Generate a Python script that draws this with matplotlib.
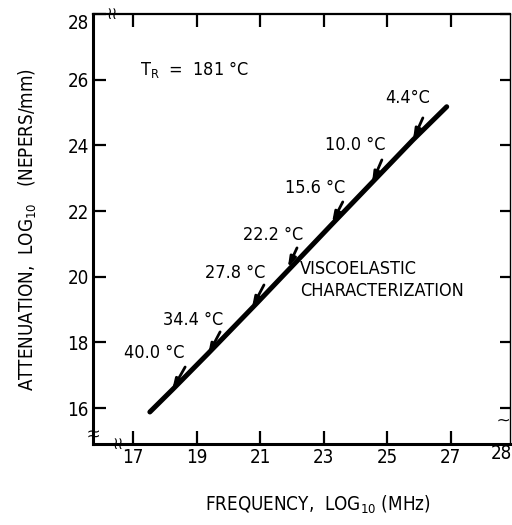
import numpy as np
import matplotlib
matplotlib.use('Agg')
import matplotlib.pyplot as plt

plt.rcParams['font.family'] = ['DejaVu Sans']
plt.rcParams['font.stretch'] = 'condensed'
plt.rcParams['mathtext.fontset'] = 'custom'
plt.rcParams['mathtext.rm'] = 'DejaVu Sans:stretch=condensed'

# master curve (log10 MHz vs log10 nepers/mm)
freq = [17.53, 18.26, 19.36, 20.90, 22.16, 23.26, 24.55, 25.81, 26.87]
atten = [15.88, 16.58, 17.66, 19.20, 20.48, 21.60, 22.90, 24.17, 25.18]

# shift markers for each test temperature
temps = ['40.0 °C', '34.4 °C', '27.8 °C', '22.2 °C', '15.6 °C', '10.0 °C', '4.4°C']
lab_x = [17.68, 18.90, 20.21, 21.42, 22.74, 24.00, 25.63]
lab_y = [17.68, 18.68, 20.12, 21.27, 22.71, 24.02, 25.45]
tail_x = [18.64, 19.74, 21.12, 22.16, 23.60, 24.83, 26.12]
tail_y = [17.25, 18.32, 19.75, 20.88, 22.28, 23.56, 24.84]
head_x = [18.23, 19.36, 20.74, 21.87, 23.26, 24.52, 25.81]
head_y = [16.55, 17.62, 19.05, 20.27, 21.64, 22.86, 24.17]

xticks = [17, 19, 21, 23, 25, 27]
yticks = [16, 18, 20, 22, 24, 26, 28]

fig = plt.figure(figsize=(5.12, 5.25), dpi=100)
ax = fig.add_axes([0.1816, 0.154, 0.8144, 0.819])

ax.plot(freq, atten, color='black', lw=3.6, solid_capstyle='round')

for t, lx, ly, tx, ty, hx, hy in zip(temps, lab_x, lab_y, tail_x, tail_y, head_x, head_y):
    ax.text(lx, ly, t, ha='center', va='center', fontsize=13)
    ax.annotate('', xy=(hx, hy), xytext=(tx, ty),
                arrowprops=dict(arrowstyle='-|>,head_length=0.6,head_width=0.18',
                                color='black', lw=2, shrinkA=0, shrinkB=0))

ax.text(17.22, 26.3, r'T$_\mathrm{R}$  =  181 °C', ha='left', va='center', fontsize=13)
ax.text(22.25, 19.9, 'VISCOELASTIC\nCHARACTERIZATION', ha='left', va='center',
        fontsize=13, linespacing=1.25)

ax.set_xlim(15.74, 28.86)
ax.set_ylim(14.9, 28.0)
ax.set_xticks(xticks)
ax.set_yticks(yticks)
ax.tick_params(axis='both', direction='in', length=9.5, width=1.6,
               top=True, right=True, labelsize=13.5, pad=3)
for tk in ax.yaxis.get_major_ticks():
    tk.tick2line.set_markersize(7)
ax.text(28.6, 14.9, '28', transform=ax.transData, ha='center', va='top',
        fontsize=13.5)
ax.yaxis.get_major_ticks()[-1].label1.set_verticalalignment('top')

for s in ['left', 'bottom']:
    ax.spines[s].set_linewidth(2.2)
ax.spines['top'].set_linewidth(1.6)
ax.spines['right'].set_linewidth(1.0)

# axis-break squiggles
ax.text(0.045, 1.0, '≀≀', transform=ax.transAxes, ha='center', va='center', fontsize=12)
ax.text(0.06, 0.0, '≀≀', transform=ax.transAxes, ha='center', va='center', fontsize=12)
ax.text(0.0, 0.03, '≀≀', transform=ax.transAxes, ha='center', va='center',
        fontsize=12, rotation=90)
ax.text(0.985, 0.06, '≀', transform=ax.transAxes, ha='center', va='center',
        fontsize=12, rotation=90)

ax.set_xlabel(r'FREQUENCY,  LOG$_{10}$ (MHz)', fontsize=13.5)
ax.xaxis.set_label_coords(0.54, -0.115)
ax.set_ylabel(r'ATTENUATION,  LOG$_{10}$   (NEPERS/mm)', fontsize=13.5)
ax.yaxis.set_label_coords(-0.13, 0.5)

fig.savefig('out.png', dpi=100)
